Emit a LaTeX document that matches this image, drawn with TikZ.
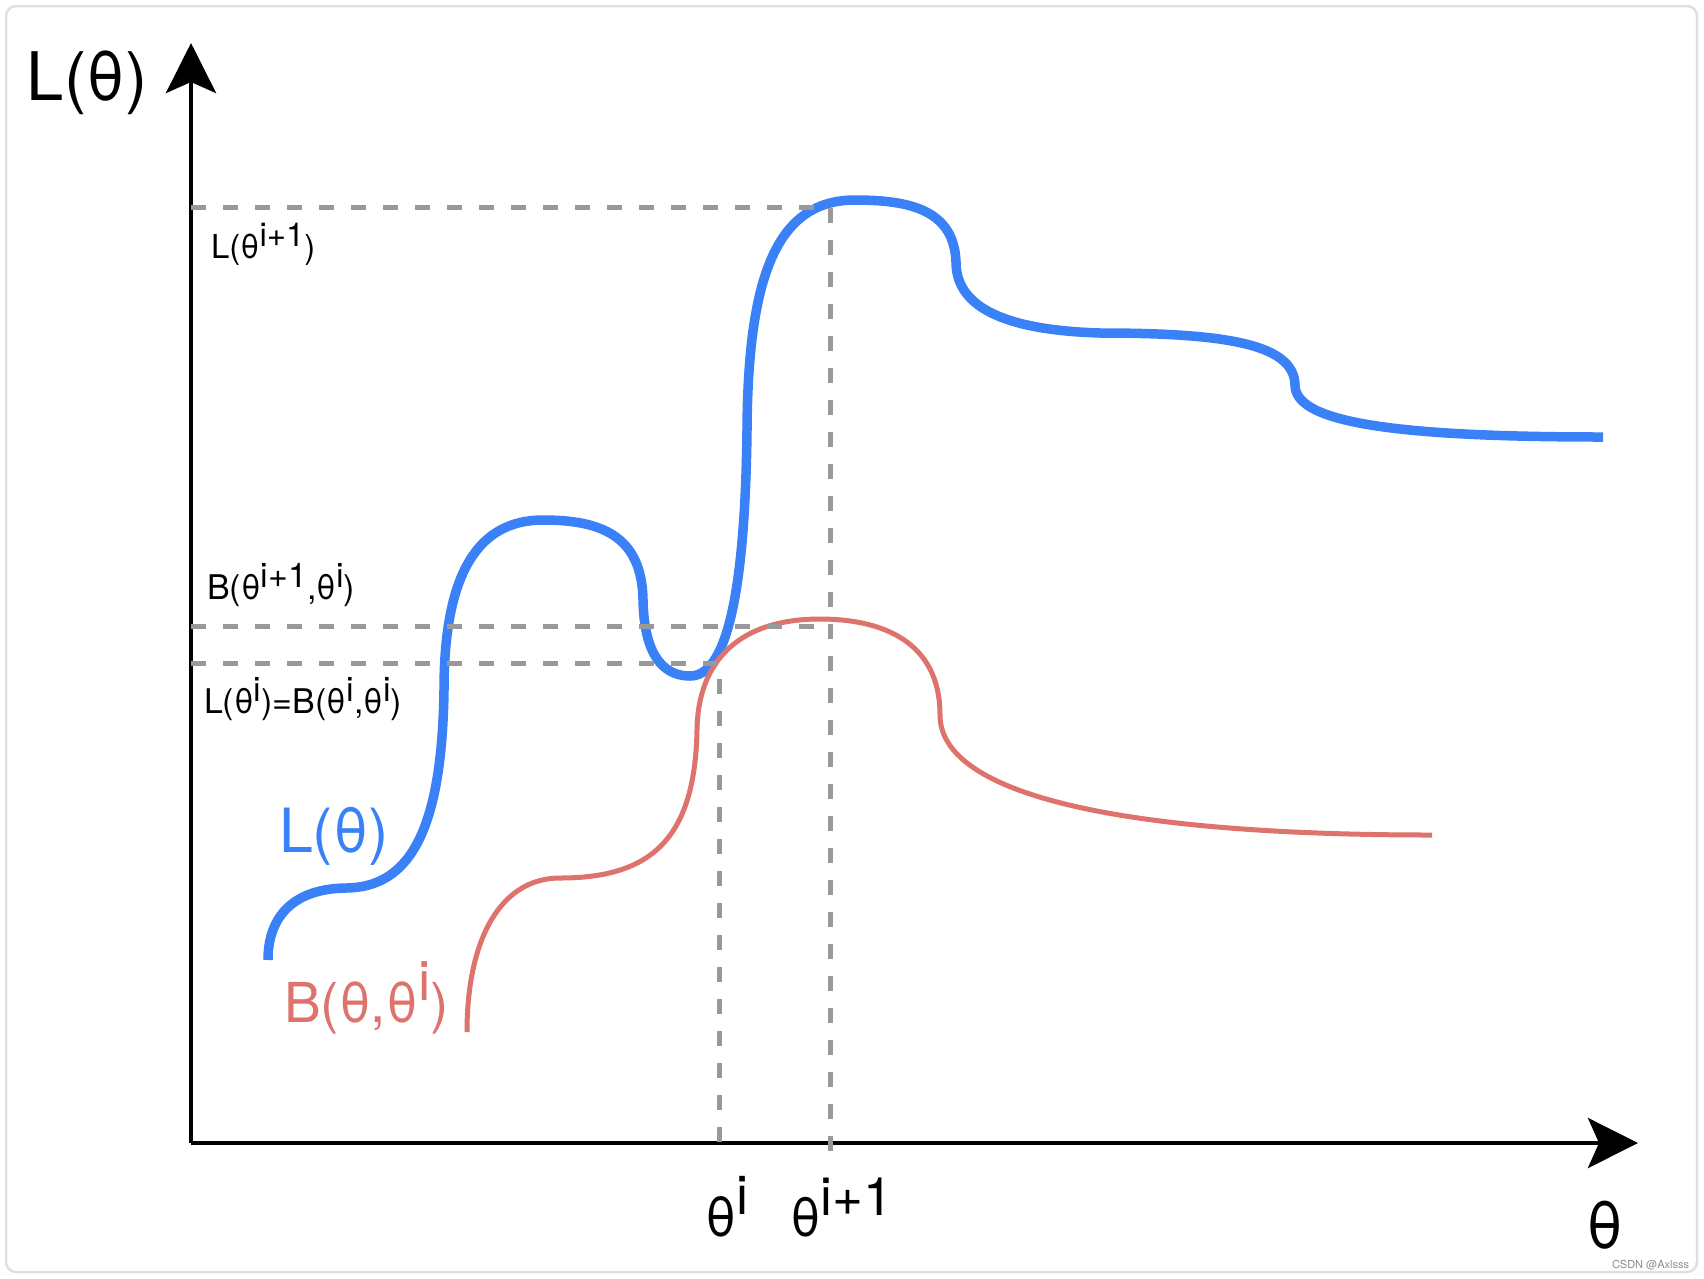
\documentclass[tikz,border=0pt]{standalone}
\usepackage{fontspec}
\setmainfont{TeX Gyre Heros}
\usetikzlibrary{arrows.meta}
\definecolor{lblue}{RGB}{58,128,246}
\definecolor{bred}{RGB}{221,115,108}
\definecolor{dgray}{RGB}{153,153,153}
\newcommand\myup[2][0.38em]{\raisebox{#1}{#2}}
\newcommand\fs[1]{\fontsize{#1}{#1}\selectfont}
\begin{document}
\begin{tikzpicture}[x=1pt,y=-1pt,
  axisline/.style={line width=4.5pt, -{Stealth[length=50pt,width=50pt,inset=11pt]}},
  guide/.style={draw=dgray, line width=5pt, dash pattern=on 15pt off 17pt},
  lcurve/.style={draw=lblue, line width=9.5pt},
  bcurve/.style={draw=bred, line width=5pt},
  lbl/.style={anchor=base west, inner sep=0pt, outer sep=0pt},
]
\useasboundingbox (0,0) rectangle (1704,1278);
\fill[white] (0,0) rectangle (1704,1278);
\draw[black!12, line width=2.5pt, rounded corners=10pt] (6,6) rectangle (1697,1272);

% axes
\coordinate (O) at (191,1143);
\coordinate (Ytip) at (191,43);
\coordinate (Xtip) at (1638,1143);
\draw[axisline] (O) -- (Ytip);
\draw[axisline] (O) -- (Xtip);

% L(theta)
\draw[lcurve] (268,960)
  .. controls (268,915) and (295,889) .. (345,888)
  .. controls (410,888) and (442,830) .. (444,690)
  .. controls (444,570) and (480,520) .. (543,520)
  .. controls (600,520) and (642,535) .. (643,600)
  .. controls (644,650) and (660,676) .. (690,676)
  .. controls (725,676) and (745,600) .. (747,430)
  .. controls (748,280) and (775,200) .. (855,200)
  .. controls (910,200) and (954,210) .. (956,262)
  .. controls (956,305) and (1000,330) .. (1100,333)
  .. controls (1230,333) and (1294,345) .. (1295,385)
  .. controls (1295,420) and (1380,437) .. (1603,437);

% B(theta, theta^i)
\draw[bcurve] (467,1032)
  .. controls (467,940) and (500,878) .. (560,878)
  .. controls (650,878) and (695,840) .. (697,730)
  .. controls (698,660) and (740,619) .. (820,619)
  .. controls (880,619) and (940,640) .. (940,715)
  .. controls (940,790) and (1100,835) .. (1432,835);

% guide lines
\coordinate (gA0) at (191,207);
\coordinate (gA1) at (830,207);
\coordinate (gA2) at (830,1153);
\coordinate (gB0) at (191,626);
\coordinate (gB1) at (830,626);
\coordinate (gC0) at (191,663);
\coordinate (gC1) at (719,663);
\coordinate (gC2) at (719,1143);
\draw[guide] (gA0) -- (gA1) -- (gA2);
\draw[guide] (gB0) -- (gB1);
\draw[guide] (gC0) -- (gC1) -- (gC2);

% labels
\node[lbl] (ylab) at (27,100) {\fs{67}L(θ)};
\node[lbl] (xlab) at (1586,1248) {\fs{64}θ};
\node[lbl] (ti) at (705,1236) {\fs{54}θ\myup[0.39em]{i}};
\node[lbl] (tip1) at (790,1236) {\fs{53}θ\myup[0.39em]{i+1}};
\node[lbl] (lnext) at (211,258) {\fs{33}L(θ\myup[0.34em]{i+1})};
\node[lbl] (bnext) at (207,599) {\fs{34}B(θ\myup[0.34em]{i+1},θ\myup[0.34em]{i})};
\node[lbl] (lcur) at (204,713) {\fs{34}L(θ\myup[0.34em]{i})=B(θ\myup[0.34em]{i},θ\myup[0.34em]{i})};
\node[lbl, text=lblue] (lname) at (279,852) {\fs{61}L(θ)};
\node[lbl, text=bred] (bname) at (284,1022) {\fs{55}B(θ,θ\myup[0.4em]{i})};
\node[lbl, text=black!45] (wm) at (1612,1268) {\fs{11}CSDN @Axlsss};
\end{tikzpicture}
\end{document}
